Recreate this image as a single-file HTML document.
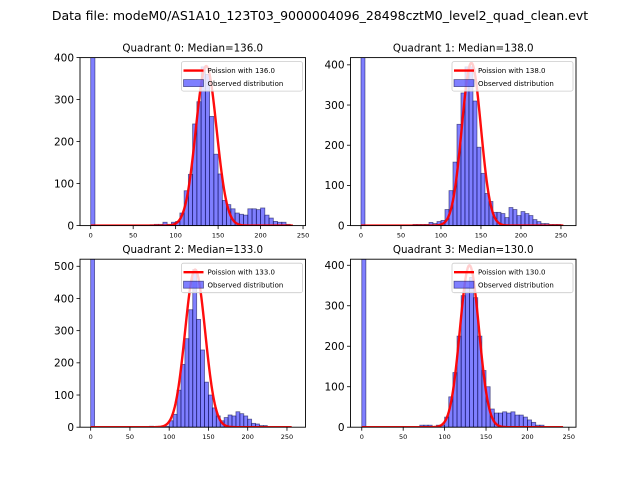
<!DOCTYPE html>
<html><head><meta charset="utf-8">
<style>
html,body{margin:0;padding:0;background:#fff;}
svg{display:block;font-family:"DejaVu Sans","Liberation Sans",sans-serif;}
</style></head>
<body>
<svg id="fig" width="640" height="480" viewBox="0 0 640 480">
<rect x="0" y="0" width="640" height="480" fill="#fff"/>
<text x="320" y="20" font-size="12.5" text-anchor="middle">Data file: modeM0/AS1A10_123T03_9000004096_28498cztM0_level2_quad_clean.evt</text>
</svg>
<script>
// ---- data ----
const medians = [136, 138, 133, 130];
const curvePeak = [380, 405, 490, 400];
const curveSigma = [12.2, 11.9, 12.8, 11.5];
const curveEnd = [238, 253, 256, 243];
const binWidth = 5;
const binStarts = [0,5,10,15,20,25,30,35,40,45,50,55,60,65,70,75,80,85,90,95,100,105,110,115,120,125,130,135,140,145,150,155,160,165,170,175,180,185,190,195,200,205,210,215,220,225,230,235,240,245];
const countsQ0 = [1500,0,0,0,0,0,0,0,0,0,0,0,0,0,2,3,3,8,3,8,10,30,83,122,242,295,378,360,260,170,123,60,50,40,30,27,25,40,40,38,42,25,18,10,8,8,3,0,0,0];
const countsQ1 = [1500,0,0,0,0,0,0,0,0,0,0,0,0,3,3,3,3,8,5,10,13,40,87,158,252,330,395,395,310,195,130,80,60,33,33,30,20,45,40,25,35,30,25,15,10,5,5,3,3,3];
const countsQ2 = [1500,0,0,0,0,0,0,0,0,0,0,0,0,0,0,3,0,0,0,3,20,40,115,195,275,365,490,335,240,140,100,60,35,20,30,38,35,48,42,35,25,12,10,5,5,0,0,0,0,0];
const countsQ3 = [1500,0,0,0,0,0,0,0,0,0,0,0,0,0,5,5,5,0,5,5,25,75,135,225,325,345,370,320,225,140,100,45,35,35,38,35,38,30,30,25,18,12,5,5,0,0,0,0,0,0];
const allCounts = [countsQ0, countsQ1, countsQ2, countsQ3];
const xTicks = [0,50,100,150,200,250];
const yTicksQ0 = [0,100,200,300,400];
const yTicksQ1 = [0,100,200,300,400];
const yTicksQ2 = [0,100,200,300,400,500];
const yTicksQ3 = [0,100,200,300,400];
const allYTicks = [yTicksQ0, yTicksQ1, yTicksQ2, yTicksQ3];
const xLims = [[-12.6,252.9],[-13.1,268.8],[-13.6,273.6],[-13.6,258.6]];
const yMax = [400, 418, 522, 415];

// ---- layout ----
const NS = "http://www.w3.org/2000/svg";
const fig = document.getElementById('fig');
const boxes = [[80,57.6],[350.5,57.6],[80,259.2],[350.5,259.2]];
const W = 225.5, H = 168;
function mk(tag, attrs, parent){const e=document.createElementNS(NS,tag);for(const k in attrs)e.setAttribute(k,attrs[k]);(parent||fig).appendChild(e);return e;}

for (let q=0;q<4;q++){
  const [x0,y0]=boxes[q];
  const [xa,xb]=xLims[q];
  const sx=v=>x0+(v-xa)/(xb-xa)*W;
  const sy=v=>y0+H-v/yMax[q]*H;
  const g=mk('g',{});
  
  
  const cid='clip'+q;
  const cp=mk('clipPath',{id:cid},g);
  mk('rect',{x:x0,y:y0,width:W,height:H},cp);
  const t=mk('text',{x:x0+W/2,y:y0-6,'font-size':'10.3','text-anchor':'middle'},g);
  t.textContent='Quadrant '+q+': Median='+medians[q].toFixed(1);
  
  
  const bars=mk('g',{'clip-path':'url(#'+cid+')'},g);
  const counts=allCounts[q];
  for(let i=0;i<binStarts.length;i++){
    if(counts[i]<=0)continue;
    const bx=sx(binStarts[i]), bw=sx(binStarts[i]+binWidth)-bx, top=sy(counts[i]);
    const r=mk('rect',{x:bx,y:top,width:bw,height:sy(0)-top,fill:'rgba(0,0,255,0.5)',stroke:'rgba(0,0,60,0.55)','stroke-width':'0.8'},bars);
    
    
  }
  let d='';
  for(let k=0;k<=curveEnd[q];k++){
    const z=(k-medians[q])/curveSigma[q];
    const v=curvePeak[q]*Math.exp(-0.5*z*z);
    d+=(k?'L':'M')+sx(k).toFixed(2)+','+sy(v).toFixed(2);
  }
  const p=mk('path',{d:d,fill:'none',stroke:'rgba(255,0,0,0.95)','stroke-width':'2.4','stroke-linejoin':'round'},bars);
  
  
  const f=mk('rect',{x:x0,y:y0,width:W,height:H,fill:'none',stroke:'#000','stroke-width':'0.9'},g);
  
  
  xTicks.forEach(v=>{
    const X=sx(v);
    mk('line',{x1:X,y1:y0+H,x2:X,y2:y0+H+3.5,stroke:'#000','stroke-width':'0.8'},g);
    const tl=mk('text',{x:X,y:y0+H+12,'font-size':'6.5','text-anchor':'middle'},g);
    tl.textContent=v;
    
    
  });
  allYTicks[q].forEach(v=>{
    const Y=sy(v);
    mk('line',{x1:x0-3.5,y1:Y,x2:x0,y2:Y,stroke:'#000','stroke-width':'0.8'},g);
    const tl=mk('text',{x:x0-6,y:Y+3.8,'font-size':'10.5','text-anchor':'end'},g);
    tl.textContent=v;
    
    
  });
  // legend
  const lx=x0+W-124, ly=y0+4;
  const lg=mk('g',{},g);
  
  
  mk('rect',{x:lx,y:ly,width:121,height:29.5,rx:2,fill:'rgba(255,255,255,0.8)',stroke:'#ccc','stroke-width':'0.8'},lg);
  mk('line',{x1:lx+2,y1:ly+9,x2:lx+22,y2:ly+9,stroke:'red','stroke-width':'2.4'},lg);
  const l1=mk('text',{x:lx+26,y:ly+11.3,'font-size':'7'},lg);
  l1.textContent='Poission with '+medians[q].toFixed(1);
  
  
  mk('rect',{x:lx+2,y:ly+18,width:20,height:7,fill:'rgba(0,0,255,0.5)',stroke:'rgba(0,0,60,0.55)','stroke-width':'0.8'},lg);
  const l2=mk('text',{x:lx+26,y:ly+24.5,'font-size':'7'},lg);
  l2.textContent='Observed distribution';
  
  
}
</script>
</body></html>
